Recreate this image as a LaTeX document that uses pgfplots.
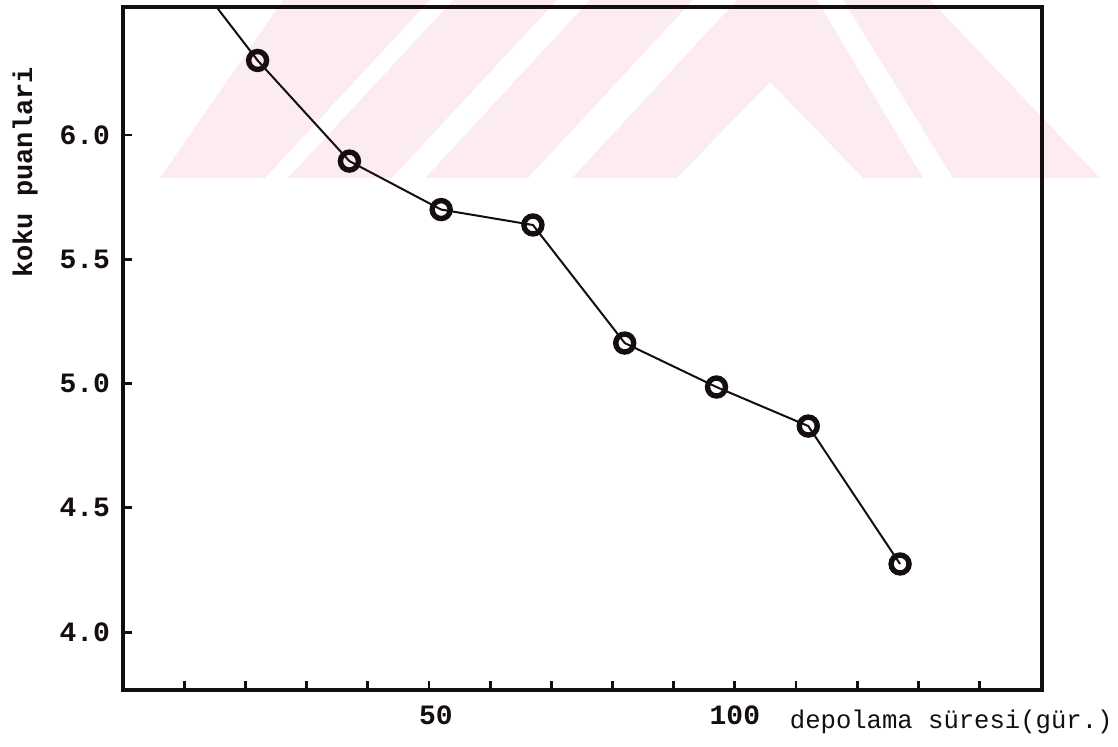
\documentclass[border=0pt]{standalone}
\usepackage{pgfplots}
\pgfplotsset{compat=1.18}
\usepackage{fontspec}
\setmainfont{Liberation Mono}
\definecolor{wm}{RGB}{252,236,239}
\definecolor{ink}{RGB}{20,14,14}
\begin{document}
\begin{tikzpicture}
\begin{scope}[x=0.5pt,y=-0.5pt]
\begin{scope}
\clip (150,0) rectangle (1110,178);
\fill[wm] (283,0) -- (430,0) -- (265,178) -- (160,178) -- cycle;
\fill[wm] (453,0) -- (557,0) -- (392,178) -- (288,178) -- cycle;
\fill[wm] (590,0) -- (693,0) -- (528,178) -- (425,178) -- cycle;
\fill[wm] (737,0) -- (817,0) -- (923,178) -- (863,178) -- (770,82) -- (677,178) -- (572,178) -- cycle;
\fill[wm] (843,0) -- (930,0) -- (1100,178) -- (953,178) -- cycle;
\end{scope}
\end{scope}
\begin{axis}[
  at={(61.5pt,-345pt)}, anchor=south west,
  scale only axis, width=459.5pt, height=341.5pt,
  xmin=0, xmax=150.2, ymin=3.767, ymax=6.515,
  axis line style={line width=2.3pt, ink},
  tick align=inside, major tick length=4.5pt,
  tick style={line width=1.4pt, ink},
  xtick={10,20,30,40,50,60,70,80,90,100,110,120,130,140},
  xticklabels={,,,,\hspace*{7pt}50,,,,,100,,,,},
  ytick={4,4.5,5,5.5,6},
  yticklabel style={/pgf/number format/fixed, /pgf/number format/fixed zerofill, /pgf/number format/precision=1, /pgf/number format/assume math mode=true, xshift=-3pt},
  xticklabel style={/pgf/number format/assume math mode=true, yshift=-4.5pt},
  ticklabel style={font=\fontsize{14}{16}\selectfont\bfseries, text=ink},
  xtick pos=bottom, ytick pos=left,
  xlabel={depolama süresi(gür.)},
  xlabel style={at={(axis description cs:0.718,-0.056)}, anchor=base west, font=\fontsize{12.8}{15}\selectfont, text=ink},
  ylabel={koku puanlari},
  ylabel style={at={(axis description cs:-0.1066,0.758)}, anchor=center, font=\fontsize{13.5}{15}\selectfont\bfseries, text=ink},
]
\addplot[ink, line width=1pt, mark=o, mark size=4.5pt, mark options={line width=2.7pt, fill=none}] coordinates {
(7,6.78) (22,6.30) (37,5.895) (52,5.70) (67,5.638) (82,5.163) (97,4.986) (112,4.829) (127,4.274)
};
\end{axis}
\pgfresetboundingbox
\path[use as bounding box] (0pt,0pt) rectangle (559pt,-373pt);
\end{tikzpicture}
\end{document}
